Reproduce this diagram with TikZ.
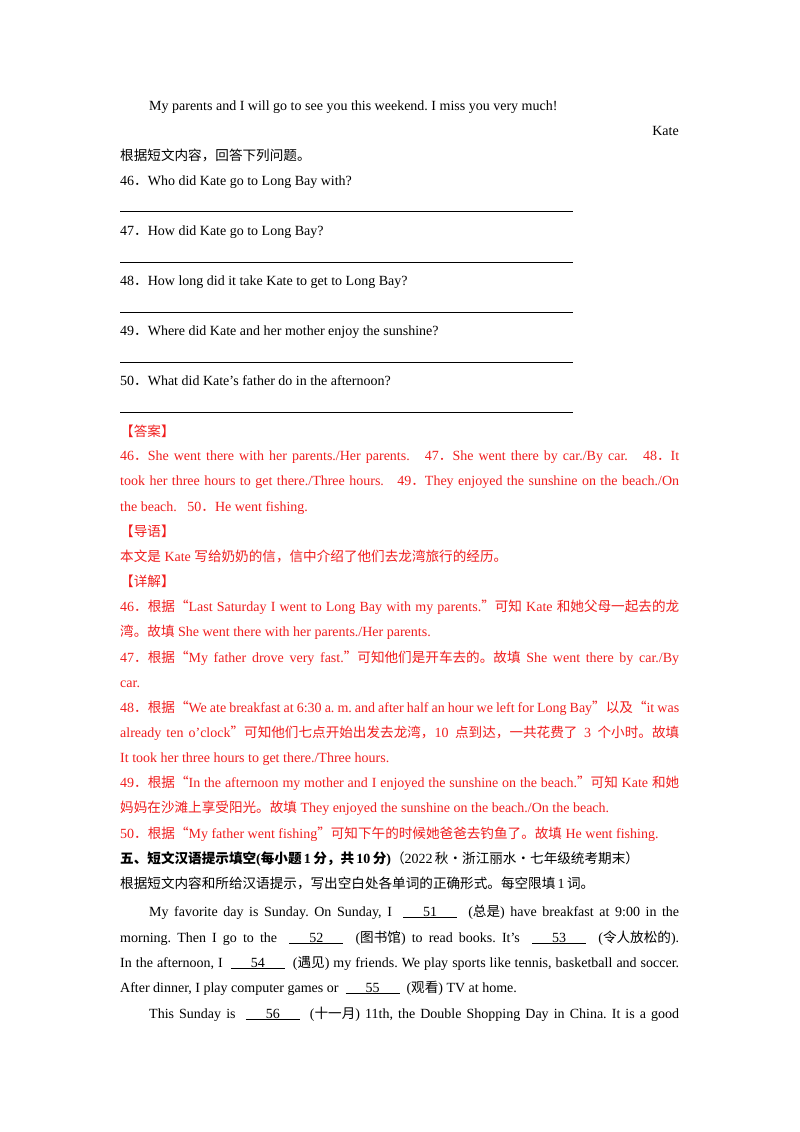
\documentclass[tikz,border=0pt]{standalone}
\usepackage{fontspec}
\setmainfont{Liberation Serif}
\newfontfamily\cjk{Noto Sans CJK SC}
\newcommand{\zh}[1]{{\cjk\fontsize{13.6pt}{14pt}\selectfont #1}}
\newcommand{\blk}[1]{\underline{\hspace{20pt}#1\hspace{20pt}}}
\definecolor{ansred}{RGB}{240,30,30}
\newcommand{\J}[1]{\makebox[559pt][s]{#1}}
\frenchspacing
\begin{document}
\begin{tikzpicture}[x=1pt,y=-1pt,every node/.style={anchor=base west,inner sep=0pt,font=\fontsize{14pt}{16pt}\selectfont},
 red/.style={text=ansred}]
\useasboundingbox[fill=white] (0,0) rectangle (800,1132);
\node (a1) at (149,110) {My parents and I will go to see you this weekend. I miss you very much!};
\node[anchor=base east] (a2) at (679,135) {Kate};
\node (a3) at (120,160) {\zh{根据短文内容，回答下列问题。}};
\node (q46) at (120,185) {46\zh{．}Who did Kate go to Long Bay with?};
\node (q47) at (120,235) {47\zh{．}How did Kate go to Long Bay?};
\node (q48) at (120,285) {48\zh{．}How long did it take Kate to get to Long Bay?};
\node (q49) at (120,335) {49\zh{．}Where did Kate and her mother enjoy the sunshine?};
\node (q50) at (120,385) {50\zh{．}What did Kate’s father do in the afternoon?};
\foreach \y in {211,262,312,362,412} \draw[line width=0.6pt] (120,\y) -- (573,\y);
\begin{scope}[every node/.append style={text=ansred}]
\node (r1) at (120,436) {\zh{【答案】}};
\node (r2) at (120,460) {\J{46\zh{．}She went there with her parents./Her parents. \ \ 47\zh{．}She went there by car./By car. \ \ 48\zh{．}It}};
\node (r3) at (120,485) {\J{took her three hours to get there./Three hours. \ \ 49\zh{．}They enjoyed the sunshine on the beach./On}};
\node (r4) at (120,511) {the beach. \ \ 50\zh{．}He went fishing.};
\node (r5) at (120,536) {\zh{【导语】}};
\node (r6) at (120,561) {\zh{本文是} Kate \zh{写给奶奶的信，信中介绍了他们去龙湾旅行的经历。}};
\node (r7) at (120,586) {\zh{【详解】}};
\node (r8) at (120,611) {\J{46\zh{．根据“}Last Saturday I went to Long Bay with my parents.\zh{”可知} Kate \zh{和她父母一起去的龙}}};
\node (r9) at (120,636) {\zh{湾。故填} She went there with her parents./Her parents.};
\node (r10) at (120,662) {\J{47\zh{．根据“}My father drove very fast.\zh{”可知他们是开车去的。故填} She went there by car./By}};
\node (r11) at (120,687) {car.};
\node (r12) at (120,712) {\J{48\zh{．根据“}We ate breakfast at 6:30 a. m. and after half an hour we left for Long Bay\zh{”以及“}it was}};
\node (r13) at (120,737) {\J{already ten o’clock\zh{”可知他们七点开始出发去龙湾，}10\hspace{3pt plus 4pt}\zh{点到达，一共花费了}\hspace{3pt plus 4pt}3\hspace{3pt plus 4pt}\zh{个小时。故填}}};
\node (r14) at (120,762) {It took her three hours to get there./Three hours.};
\node (r15) at (120,787) {\J{49\zh{．根据“}In the afternoon my mother and I enjoyed the sunshine on the beach.\zh{”可知} Kate \zh{和她}}};
\node (r16) at (120,812) {\zh{妈妈在沙滩上享受阳光。故填} They enjoyed the sunshine on the beach./On the beach.};
\node (r17) at (120,838) {50\zh{．根据“}My father went fishing\zh{”可知下午的时候她爸爸去钓鱼了。故填} He went fishing.};
\end{scope}
\node (s1) at (120,863) {\textbf{{\cjk\bfseries\fontsize{13.6pt}{14pt}\selectfont 五、短文汉语提示填空}(\zh{\bfseries 每小题}\,1\,\zh{\bfseries 分，共}\,10\,\zh{\bfseries 分})}\zh{（}2022\,\zh{秋·浙江丽水·七年级统考期末）}};
\node (s2) at (120,888) {\zh{根据短文内容和所给汉语提示，写出空白处各单词的正确形式。每空限填}\,1\,\zh{词。}};
\node (p1) at (149,916) {\makebox[530pt][s]{My favorite day is Sunday. On Sunday, I \ \blk{51} \ (\zh{总是}) have breakfast at 9:00 in the}};
\node (p2) at (120,942) {\J{morning. Then I go to the \ \blk{52} \ (\zh{图书馆}) to read books. It’s \ \blk{53} \ (\zh{令人放松的}).}};
\node (p3) at (120,967) {\J{In the afternoon, I \ \blk{54} \ (\zh{遇见}) my friends. We play sports like tennis, basketball and soccer.}};
\node (p4) at (120,992) {After dinner, I play computer games or \ \blk{55} \ (\zh{观看}) TV at home.};
\node (p5) at (149,1018) {\makebox[530pt][s]{This Sunday is \ \blk{56} \ (\zh{十一月}) 11th, the Double Shopping Day in China. It is a good}};
\end{tikzpicture}
\end{document}
